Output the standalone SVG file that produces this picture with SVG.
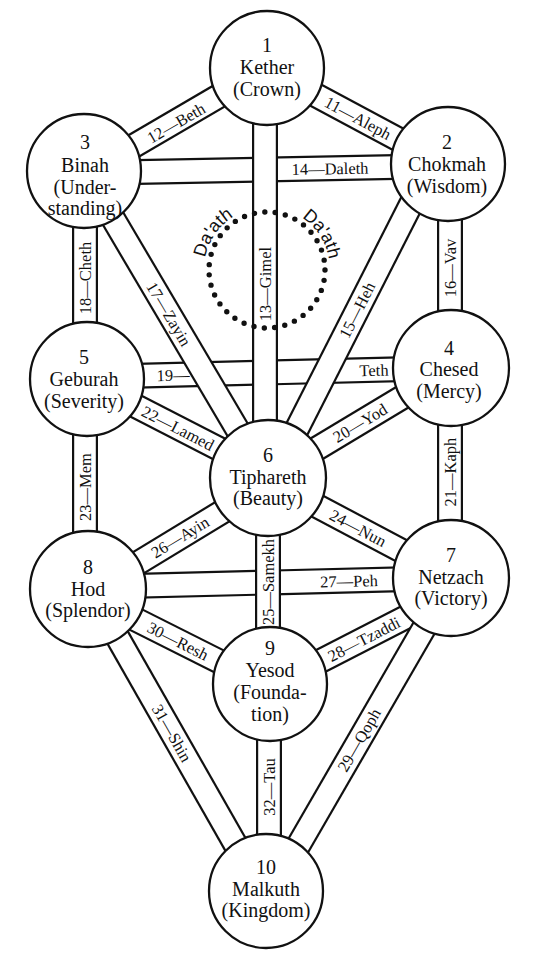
<svg xmlns="http://www.w3.org/2000/svg" width="534" height="960" viewBox="0 0 534 960">
<defs>
<style>
.bo{stroke:#111;stroke-width:26;stroke-linecap:butt;fill:none}
.bi{stroke:#fff;stroke-width:21.6;stroke-linecap:butt;fill:none}
.node circle{fill:#fff;stroke:#111;stroke-width:2.3}
.nt{font-family:"Liberation Serif",serif;font-size:20px;fill:#111;text-anchor:middle}
.lb{font-family:"Liberation Serif",serif;font-size:16.5px;fill:#111;text-anchor:middle}
.dt{fill:none;stroke:#111;stroke-width:5.4;stroke-linecap:round;stroke-dasharray:0 10.41}
.da{font-family:"Liberation Sans",sans-serif;font-size:18px;fill:#111;text-anchor:middle}
</style>
<path id="dpath" d="M204,270 A63,63 0 1 1 330,270 A63,63 0 1 1 204,270"/>
</defs>
<rect width="534" height="960" fill="#fff"/>
<g id="connectors">
<g id="p14"><line class="bo" x1="84" y1="173" x2="448" y2="166"/><line class="bi" x1="84" y1="173" x2="448" y2="166"/></g>
<g id="p19"><line class="bo" x1="87" y1="377" x2="451" y2="368"/><line class="bi" x1="87" y1="377" x2="451" y2="368"/></g>
<g id="p27"><line class="bo" x1="88" y1="587" x2="451" y2="578"/><line class="bi" x1="88" y1="587" x2="451" y2="578"/></g>
<g id="p11"><line class="bo" x1="267" y1="69" x2="448" y2="166"/><line class="bi" x1="267" y1="69" x2="448" y2="166"/></g>
<g id="p12"><line class="bo" x1="84" y1="175" x2="267" y2="68"/><line class="bi" x1="84" y1="175" x2="267" y2="68"/></g>
<g id="p13"><line class="bo" x1="265" y1="68" x2="265" y2="478"/><line class="bi" x1="265" y1="68" x2="265" y2="478"/></g>
<g id="p15"><line class="bo" x1="432" y1="163" x2="272" y2="478"/><line class="bi" x1="432" y1="163" x2="272" y2="478"/></g>
<g id="p16"><line class="bo" x1="450" y1="164" x2="450" y2="368"/><line class="bi" x1="450" y1="164" x2="450" y2="368"/></g>
<g id="p17"><line class="bo" x1="85" y1="171" x2="266" y2="478"/><line class="bi" x1="85" y1="171" x2="266" y2="478"/></g>
<g id="p18"><line class="bo" x1="85" y1="171" x2="85" y2="379"/><line class="bi" x1="85" y1="171" x2="85" y2="379"/></g>
<g id="p20"><line class="bo" x1="268" y1="478" x2="451" y2="368"/><line class="bi" x1="268" y1="478" x2="451" y2="368"/></g>
<g id="p21"><line class="bo" x1="450" y1="368" x2="450" y2="578"/><line class="bi" x1="450" y1="368" x2="450" y2="578"/></g>
<g id="p22"><line class="bo" x1="87" y1="381" x2="268" y2="474"/><line class="bi" x1="87" y1="381" x2="268" y2="474"/></g>
<g id="p23"><line class="bo" x1="85" y1="379" x2="85" y2="589"/><line class="bi" x1="85" y1="379" x2="85" y2="589"/></g>
<g id="p24"><line class="bo" x1="268" y1="480" x2="451" y2="577"/><line class="bi" x1="268" y1="480" x2="451" y2="577"/></g>
<g id="p25"><line class="bo" x1="268" y1="478" x2="268" y2="684"/><line class="bi" x1="268" y1="478" x2="268" y2="684"/></g>
<g id="p26"><line class="bo" x1="87" y1="594" x2="268" y2="484"/><line class="bi" x1="87" y1="594" x2="268" y2="484"/></g>
<g id="p28"><line class="bo" x1="270" y1="687" x2="451" y2="594"/><line class="bi" x1="270" y1="687" x2="451" y2="594"/></g>
<g id="p29"><line class="bo" x1="453" y1="578" x2="272" y2="891"/><line class="bi" x1="453" y1="578" x2="272" y2="891"/></g>
<g id="p30"><line class="bo" x1="87" y1="595" x2="270" y2="687"/><line class="bi" x1="87" y1="595" x2="270" y2="687"/></g>
<g id="p31"><line class="bo" x1="90" y1="589" x2="262" y2="891"/><line class="bi" x1="90" y1="589" x2="262" y2="891"/></g>
<g id="p32"><line class="bo" x1="269" y1="684" x2="269" y2="891"/><line class="bi" x1="269" y1="684" x2="269" y2="891"/></g>
<g id="labels">
<text class="lb" dy="0.35em" transform="translate(358,118) rotate(28.3)">11—Aleph</text>
<text class="lb" dy="0.35em" transform="translate(176,123) rotate(-30.1)">12—Beth</text>
<text class="lb" dy="0.35em" transform="translate(265,284) rotate(-90)">13—Gimel</text>
<text class="lb" dy="0.35em" transform="translate(330,168.5) rotate(-1.1)">14—Daleth</text>
<text class="lb" dy="0.35em" transform="translate(357,310) rotate(-63.1)">15—Heh</text>
<text class="lb" dy="0.35em" transform="translate(450,268) rotate(-90)">16—Vav</text>
<text class="lb" dy="0.35em" transform="translate(169,314) rotate(59.5)">17—Zayin</text>
<text class="lb" dy="0.35em" transform="translate(85,278) rotate(-90)">18—Cheth</text>
<text class="lb" dy="0.35em" transform="translate(173,375) rotate(-1.4)">19—</text>
<text class="lb" dy="0.35em" transform="translate(374,370) rotate(-1.4)">Teth</text>
<text class="lb" dy="0.35em" transform="translate(360,423) rotate(-31)">20—Yod</text>
<text class="lb" dy="0.35em" transform="translate(450,472) rotate(-90)">21—Kaph</text>
<text class="lb" dy="0.35em" transform="translate(178,428) rotate(27.2)">22—Lamed</text>
<text class="lb" dy="0.35em" transform="translate(85,487) rotate(-90)">23—Mem</text>
<text class="lb" dy="0.35em" transform="translate(358,528) rotate(27.9)">24—Nun</text>
<text class="lb" dy="0.35em" transform="translate(268,582) rotate(-90)">25—Samekh</text>
<text class="lb" dy="0.35em" transform="translate(180,537) rotate(-31.3)">26—Ayin</text>
<text class="lb" dy="0.35em" transform="translate(349,581) rotate(-1.4)">27—Peh</text>
<text class="lb" dy="0.35em" transform="translate(364,639) rotate(-27.2)">28—Tzaddi</text>
<text class="lb" dy="0.35em" transform="translate(359,740) rotate(-60)">29—Qoph</text>
<text class="lb" dy="0.35em" transform="translate(178,641) rotate(26.7)">30—Resh</text>
<text class="lb" dy="0.35em" transform="translate(172,733) rotate(60.3)">31—Shin</text>
<text class="lb" dy="0.35em" transform="translate(269,787) rotate(-90)">32—Tau</text>
</g>
</g>
<g id="daath">
<circle class="dt" cx="267" cy="270" r="58"/>
<text class="da"><textPath href="#dpath" startOffset="9.6%">Da'ath</textPath></text>
<text class="da"><textPath href="#dpath" startOffset="40.8%">Da'ath</textPath></text>
</g>
<g id="n1" class="node"><circle cx="267" cy="68" r="57"/><text class="nt" x="267" y="52">1</text><text class="nt" x="267" y="74">Kether</text><text class="nt" x="267" y="96">(Crown)</text></g>
<g id="n2" class="node"><circle cx="448" cy="164" r="57"/><text class="nt" x="447" y="149">2</text><text class="nt" x="447" y="171">Chokmah</text><text class="nt" x="447" y="193">(Wisdom)</text></g>
<g id="n3" class="node"><circle cx="84" cy="171" r="57"/><text class="nt" x="85" y="149">3</text><text class="nt" x="85" y="172">Binah</text><text class="nt" x="85" y="194">(Under-</text><text class="nt" x="85" y="215">standing)</text></g>
<g id="n4" class="node"><circle cx="451" cy="368" r="58"/><text class="nt" x="449" y="355">4</text><text class="nt" x="449" y="376">Chesed</text><text class="nt" x="449" y="398">(Mercy)</text></g>
<g id="n5" class="node"><circle cx="87" cy="379" r="57"/><text class="nt" x="84" y="364">5</text><text class="nt" x="84" y="386">Geburah</text><text class="nt" x="84" y="408">(Severity)</text></g>
<g id="n6" class="node"><circle cx="268" cy="478" r="58"/><text class="nt" x="268" y="462">6</text><text class="nt" x="268" y="484">Tiphareth</text><text class="nt" x="268" y="505">(Beauty)</text></g>
<g id="n7" class="node"><circle cx="451" cy="578" r="58"/><text class="nt" x="451" y="562">7</text><text class="nt" x="451" y="584">Netzach</text><text class="nt" x="451" y="605">(Victory)</text></g>
<g id="n8" class="node"><circle cx="88" cy="589" r="58"/><text class="nt" x="88" y="574">8</text><text class="nt" x="88" y="596">Hod</text><text class="nt" x="88" y="617">(Splendor)</text></g>
<g id="n9" class="node"><circle cx="270" cy="684" r="57"/><text class="nt" x="270" y="655">9</text><text class="nt" x="270" y="677">Yesod</text><text class="nt" x="270" y="699">(Founda-</text><text class="nt" x="270" y="721">tion)</text></g>
<g id="n10" class="node"><circle cx="266" cy="891" r="57"/><text class="nt" x="266" y="874">10</text><text class="nt" x="266" y="896">Malkuth</text><text class="nt" x="266" y="917">(Kingdom)</text></g>
</svg>
